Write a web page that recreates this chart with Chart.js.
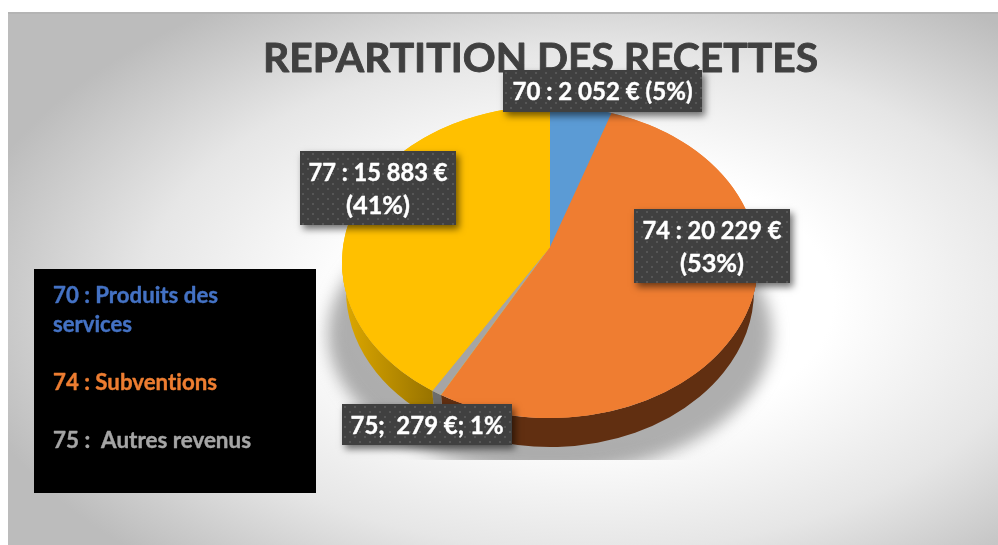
<!DOCTYPE html>
<html lang="fr">
<head>
<meta charset="utf-8">
<title>Répartition des recettes</title>
<style>html,body{margin:0;padding:0;background:#fff}canvas{display:block}</style>
<script src="https://cdn.jsdelivr.net/npm/chart.js@4"></script>
</head>
<body>
<canvas id="c" width="998" height="545"></canvas>
<script>
// ---- data ----
const chartTitle = "REPARTITION DES RECETTES";
const categories = ["70", "74", "75", "77"];
const values = [2052, 20229, 279, 15883];
const dataLabels = [
  ["70 : 2 052 € (5%)"],
  ["74 : 20 229 €", "(53%)"],
  ["75;  279 €; 1%"],
  ["77 : 15 883 €", "(41%)"]
];
const legendLines = ["70 : Produits des", "services", "74 : Subventions", "75 :  Autres revenus"];

// ---- styles and layout ----
const topColors = ["#5b9bd5", "#ef7d31", "#a5a5a5", "#ffc000"];
const sideColors = ["#3a6a94", "#612f11", "#6c6c6c", null];
const legendColors = ["#4472c4", "#4472c4", "#ed7d31", "#a5a5a5"];
const legendBaselines = [303, 332, 390, 448];
const legendWidths = [165, 79, 164, 198];
const labelBoxes = [[503,70,199,42],[634,209,156,74],[342,404,170,41],[300,151,156,74]];
const labelWidths = [[180],[139,64],[153],[139,64]];
const RX = 208, RY = 156, DEPTH = 28, APEX_Y = 247, SKEW = 0.107;
const FONT = 'Lato, "Open Sans", sans-serif';

// perspective: angles on the tilted disc are bunched towards the viewer
const persp = a => a - SKEW * Math.cos(a);

function dotPattern(ctx){
  const p = document.createElement('canvas'); p.width = 10; p.height = 10;
  const g = p.getContext('2d');
  g.fillStyle = '#404040'; g.fillRect(0,0,10,10);
  g.fillStyle = '#565656';
  g.fillRect(2,2,2,2); g.fillRect(7,7,2,2);
  return ctx.createPattern(p,'repeat');
}

function fitText(ctx, text, x, y, width, align, bold){
  ctx.save();
  ctx.textRendering = 'optimizeSpeed';
  ctx.textAlign = 'left'; ctx.textBaseline = 'alphabetic';
  const k = width / ctx.measureText(text).width;
  const left = align === 'center' ? x - width/2 : x;
  ctx.translate(left, y); ctx.scale(k, 1);
  ctx.fillText(text, 0, 0);
  if (bold) { ctx.lineWidth = bold; ctx.strokeStyle = ctx.fillStyle; ctx.lineJoin = 'round'; ctx.strokeText(text, 0, 0); }
  ctx.restore();
}

const scene = {
  id: 'scene',
  beforeDraw(chart){
    const ctx = chart.ctx, w = chart.width, h = chart.height;
    ctx.save();
    ctx.fillStyle = '#fff'; ctx.fillRect(0,0,w,h);
    ctx.beginPath(); ctx.rect(8,12,w-8,h-12); ctx.clip();
    ctx.translate(590,300); ctx.scale(1,0.56);
    const g = ctx.createRadialGradient(0,0,0,0,0,640);
    g.addColorStop(0,'#ffffff'); g.addColorStop(0.38,'#ffffff');
    g.addColorStop(0.7,'#e6e6e6'); g.addColorStop(1,'#bcbcbc');
    ctx.fillStyle = g; ctx.fillRect(-700,-700,1500,1500);
    ctx.restore();
    ctx.fillStyle = '#b4b4b4'; ctx.fillRect(8,12,w-8,2);
    // title sits behind the pie and its labels
    ctx.save();
    ctx.fillStyle = '#404040';
    ctx.font = 'bold 41px ' + FONT;
    fitText(ctx, chartTitle, 263, 72, 555, 'left', 0.9);
    ctx.restore();
  },
  beforeDatasetsDraw(chart){
    const ctx = chart.ctx, arcs = chart.getDatasetMeta(0).data;
    const cx = arcs[0].x, cy = arcs[0].y;
    // soft shadow under the disc, cut flat at the bottom
    ctx.save();
    ctx.beginPath(); ctx.rect(300,200,500,260); ctx.clip();
    ctx.filter = 'blur(8px)';
    ctx.fillStyle = 'rgba(120,120,120,0.6)';
    ctx.beginPath(); ctx.ellipse(cx,cy+72,RX+14,RY-16,0,0,Math.PI*2); ctx.fill();
    ctx.restore();
    // rim: only the front half of each slice
    ctx.save();
    arcs.forEach((a,i)=>{
      const s = Math.max(persp(a.startAngle),0), e = Math.min(persp(a.endAngle),Math.PI);
      if (e <= s) return;
      ctx.beginPath();
      ctx.ellipse(cx,cy,RX,RY,0,s,e);
      ctx.ellipse(cx,cy+DEPTH,RX-4,RY+1,0,e,s,true);
      ctx.closePath();
      if (sideColors[i]) ctx.fillStyle = sideColors[i];
      else {
        const g = ctx.createLinearGradient(cx-RX,0,cx-115,0);
        g.addColorStop(0,'#dfa900'); g.addColorStop(1,'#967200');
        ctx.fillStyle = g;
      }
      ctx.fill();
    });
    ctx.restore();
    // the disc is tilted: Chart.js draws the slices in squashed space
    ctx.save();
    ctx.translate(0,cy); ctx.scale(1,RY/RX); ctx.translate(0,-cy);
  },
  afterDatasetsDraw(chart){
    const ctx = chart.ctx, arcs = chart.getDatasetMeta(0).data;
    ctx.restore();
    // perspective: the slices meet above the centre of the ellipse
    const cx = arcs[0].x, cy = arcs[0].y;
    arcs.forEach((a,i)=>{
      ctx.beginPath();
      ctx.moveTo(cx,APEX_Y);
      ctx.ellipse(cx,cy,RX,RY,0,persp(a.startAngle),persp(a.endAngle));
      ctx.closePath();
      ctx.fillStyle = topColors[i];
      ctx.fill();
    });
    // data labels
    const pat = dotPattern(ctx);
    dataLabels.forEach((lines,i)=>{
      const [x,y,w,h] = labelBoxes[i];
      ctx.save();
      ctx.shadowColor = 'rgba(0,0,0,0.55)';
      ctx.shadowBlur = 7; ctx.shadowOffsetX = 3; ctx.shadowOffsetY = 4;
      ctx.fillStyle = '#404040'; ctx.fillRect(x,y,w,h);
      ctx.restore();
      ctx.save();
      ctx.translate(x,y);
      ctx.fillStyle = pat; ctx.fillRect(0,0,w,h);
      ctx.restore();
      ctx.save();
      ctx.fillStyle = '#fff';
      ctx.font = 'bold 24px ' + FONT;
      const lh = 33, top = y + h/2 - (lines.length-1)*lh/2 + 9;
      lines.forEach((t,k)=>fitText(ctx, t, x+w/2, top+k*lh, labelWidths[i][k], 'center', 0.4));
      ctx.restore();
    });
    // legend panel
    ctx.save();
    ctx.fillStyle = '#000'; ctx.fillRect(34,269,282,224);
    ctx.font = 'bold 22px ' + FONT;
    legendLines.forEach((t,k)=>{
      ctx.fillStyle = legendColors[k];
      fitText(ctx, t, 53, legendBaselines[k], legendWidths[k], 'left', 0.4);
    });
    ctx.restore();
  }
};

new Chart(document.getElementById('c'), {
  type: 'pie',
  data: {
    labels: categories,
    datasets: [{ data: values, backgroundColor: topColors, borderWidth: 0, radius: RX, clip: false }]
  },
  options: {
    responsive: false,
    animation: false,
    layout: { padding: { left: 342, right: 240, top: 54, bottom: 75 } },
    plugins: { legend: { display: false }, title: { display: false }, tooltip: { enabled: false } }
  },
  plugins: [scene]
});
</script>
</body>
</html>
